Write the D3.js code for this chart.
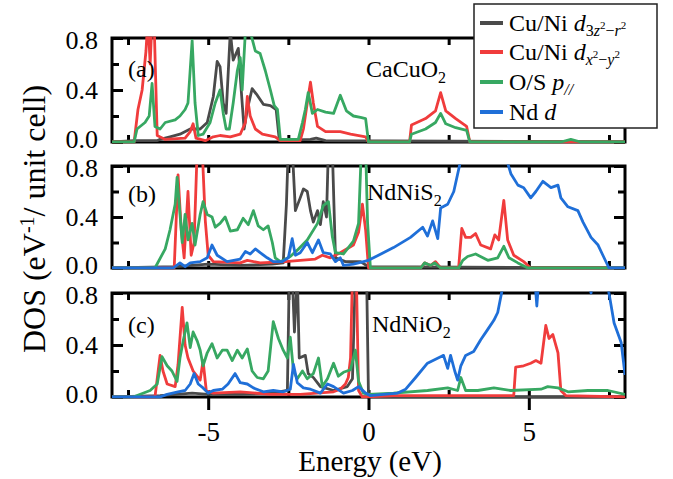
<!DOCTYPE html>
<head>
  <meta charset="utf-8">
  <title>DOS panels</title>
  <script src="https://d3js.org/d3.v7.min.js"></script>
</head>

<body style="margin:0;background:#fff">
  <script>
    // energy axis ticks
    var energyLabels = [-5, 0, 5];
    var energyTicks = [-7.5, -5, -2.5, 0, 2.5, 5, 7.5];
    var dosLabels = [0, 0.4, 0.8];
    var dosMinor = [0.2, 0.6];

    var panelTags = ['(a)', '(b)', '(c)'];
    var compounds = [['CaCuO', '2'], ['NdNiS', '2'], ['NdNiO', '2']];

    // [energy (eV), DOS], values above 0.8 are cut by the frame
    var aGray = [[-8,0],[-7.3,0.01],[-6.6,0.01],[-6.5,0.02],[-6.19,0.04],[-5.88,0.06],[-5.56,0.1],[-5.25,0.1],[-5.03,0.15],[-4.84,0.35],[-4.72,0.62],[-4.63,0.58],[-4.53,0.3],[-4.44,0.22],[-4.31,0.85],[-4.22,0.63],[-4.13,0.68],[-4.06,0.72],[-3.97,0.4],[-3.88,0.1],[-3.78,0.25],[-3.63,0.41],[-3.47,0.36],[-3.28,0.29],[-3.06,0.28],[-2.88,0.25],[-2.78,0.01],[-1.81,0.02],[-1.63,0.03],[-1.34,0.01],[8,0]];
    var aRed = [[-8,0],[-7.31,0],[-7.19,0.25],[-7.06,0.4],[-6.94,0.7],[-6.88,0.95],[-6.81,0.6],[-6.75,0.95],[-6.69,0.95],[-6.59,0.05],[-6.34,0.02],[-5.72,0.03],[-5.56,0.08],[-5.47,0.14],[-5.38,0.03],[-5.09,0.01],[-4.84,0.04],[-4.63,0.05],[-4.31,0.04],[-4,0.06],[-3.84,0.15],[-3.78,0.35],[-3.69,0.2],[-3.53,0.1],[-3.31,0.06],[-2.91,0.04],[-2.75,0.01],[-2.13,0.01],[-2.03,0.1],[-1.91,0.3],[-1.81,0.46],[-1.72,0.3],[-1.59,0.12],[-1.34,0.08],[-0.88,0.08],[-0.56,0.06],[-0.09,0.04],[0,0],[1.28,0],[1.34,0.13],[1.78,0.18],[2.09,0.24],[2.25,0.38],[2.41,0.24],[2.72,0.18],[3.06,0.12],[3.16,0],[8,0]];
    var aGreen = [[-8,0],[-7.31,0],[-7.22,0.1],[-6.97,0.15],[-6.84,0.2],[-6.75,0.45],[-6.66,0.12],[-6.5,0.1],[-6.34,0.15],[-6.03,0.17],[-5.88,0.2],[-5.72,0.25],[-5.63,0.3],[-5.5,0.78],[-5.41,0.3],[-5.31,0.05],[-5.16,0.06],[-4.94,0.15],[-4.78,0.3],[-4.63,0.4],[-4.53,0.22],[-4.44,0.1],[-4.34,0.1],[-4.22,0.3],[-4.09,0.55],[-4,0.65],[-3.94,0.4],[-3.84,0.85],[-3.69,0.85],[-3.53,0.7],[-3.38,0.68],[-3.22,0.55],[-3.06,0.4],[-2.94,0.28],[-2.84,0.25],[-2.75,0.02],[-2.19,0.02],[-2.06,0.15],[-1.97,0.25],[-1.88,0.38],[-1.75,0.22],[-1.59,0.25],[-1.34,0.23],[-1.09,0.22],[-0.88,0.36],[-0.69,0.24],[-0.47,0.2],[-0.25,0.19],[-0.09,0.18],[0,0],[1.28,0],[1.34,0.06],[1.78,0.1],[2.09,0.15],[2.25,0.22],[2.41,0.14],[2.72,0.11],[3.06,0.09],[3.16,0],[6,0],[6.31,0.02],[6.62,0],[8,0]];

    var bGray = [[-8,0],[-6,0.01],[-5,0.03],[-4,0.02],[-3,0.03],[-2.66,0.04],[-2.56,0.5],[-2.5,0.95],[-2.38,0.95],[-2.28,0.45],[-2.13,0.55],[-2.03,0.62],[-1.91,0.6],[-1.81,0.45],[-1.72,0.36],[-1.59,0.45],[-1.5,0.34],[-1.41,0.52],[-1.31,0.4],[-1.25,0.95],[-1.13,0.95],[-1.03,0.08],[-0.72,0.05],[-0.25,0.05],[0,0.01],[8,0]];
    var bRed = [[-8,0],[-6.06,0],[-5.94,0.73],[-5.84,0.3],[-5.75,0.08],[-5.63,0.6],[-5.53,0.1],[-5.44,0.2],[-5.34,0.95],[-5.19,0.95],[-5.09,0.37],[-5,0.1],[-4.84,0.05],[-4,0.04],[-3.78,0.06],[-3.38,0.04],[-2.59,0.05],[-2.13,0.06],[-1.66,0.07],[-1.44,0.1],[-1.19,0.08],[-0.88,0.12],[-0.47,0.18],[-0.31,0.28],[-0.19,0.5],[-0.09,0.3],[0,0],[1.63,0],[1.75,0.04],[1.94,0.02],[2.09,0.05],[2.25,0],[2.81,0],[2.91,0.31],[3.03,0.24],[3.19,0.24],[3.34,0.27],[3.5,0.18],[3.81,0.15],[3.94,0.26],[4.06,0.22],[4.22,0.53],[4.34,0.22],[4.53,0.1],[4.84,0.05],[5.06,0],[8,0]];
    var bGreen = [[-8,0],[-6.66,0],[-6.34,0.15],[-6.19,0.3],[-6.03,0.5],[-5.97,0.71],[-5.81,0.2],[-5.72,0.42],[-5.63,0.22],[-5.5,0.35],[-5.41,0.18],[-5.25,0.42],[-5.16,0.52],[-5.03,0.42],[-4.88,0.4],[-4.78,0.32],[-4.63,0.35],[-4.47,0.4],[-4.31,0.29],[-4.09,0.3],[-3.91,0.39],[-3.75,0.34],[-3.59,0.45],[-3.44,0.33],[-3.28,0.3],[-3.13,0.33],[-3,0.2],[-2.91,0.08],[-2.75,0.05],[-2.44,0.09],[-2.22,0.14],[-1.91,0.22],[-1.59,0.35],[-1.41,0.49],[-1.25,0.52],[-1.13,0.25],[-1.03,0.12],[-0.78,0.11],[-0.47,0.21],[-0.31,0.35],[-0.22,0.95],[-0.09,0.95],[-0.03,0.36],[0.06,0],[1.63,0],[1.75,0.04],[1.94,0.02],[2.06,0.04],[2.25,0],[2.81,0],[2.94,0.06],[3.09,0.09],[3.34,0.11],[3.72,0.06],[4.03,0.08],[4.22,0.17],[4.38,0.08],[4.66,0.04],[4.97,0],[8,0]];
    var bBlue = [[-8,0],[-6.09,0],[-5.88,0.04],[-5.72,0.01],[-5.56,0.04],[-5.25,0.05],[-5.03,0.08],[-4.88,0.18],[-4.72,0.1],[-4.41,0.05],[-4,0.07],[-3.84,0.13],[-3.69,0.11],[-3.53,0.15],[-3.38,0.12],[-3.16,0.08],[-2.97,0.05],[-2.69,0.05],[-2.5,0.08],[-2.38,0.23],[-2.28,0.1],[-2.13,0.12],[-1.91,0.2],[-1.75,0.12],[-1.56,0.22],[-1.41,0.12],[-1.19,0.11],[-1.03,0.05],[-0.88,0.08],[-0.78,0.02],[-0.47,0.03],[0,0.06],[0.78,0.16],[1.31,0.24],[1.69,0.32],[1.84,0.25],[2,0.37],[2.16,0.23],[2.25,0.47],[2.47,0.5],[2.66,0.6],[2.88,0.85],[3.19,1],[4.13,1],[4.44,0.74],[4.66,0.65],[4.84,0.63],[5.06,0.55],[5.22,0.6],[5.44,0.68],[5.69,0.63],[5.91,0.65],[6,0.55],[6.22,0.48],[6.53,0.45],[6.69,0.36],[6.94,0.24],[7.16,0.18],[7.31,0.1],[7.5,0],[8,0]];

    var cGray = [[-8,0],[-6.5,0.01],[-5.5,0.03],[-5,0.02],[-4,0.02],[-3,0.03],[-2.53,0.05],[-2.47,0.95],[-2.38,0.95],[-2.31,0.5],[-2.22,0.95],[-2.16,0.3],[-1.97,0.32],[-1.88,0.18],[-1.72,0.15],[-1.5,0.08],[-1.09,0.05],[-0.66,0.08],[-0.5,0.14],[-0.41,0.95],[-0.06,0.95],[0,0],[8,0]];
    var cRed = [[-8,0],[-6.66,0],[-6.56,0.2],[-6.5,0.32],[-6.41,0.2],[-6.28,0.1],[-6.03,0.08],[-5.94,0.25],[-5.81,0.69],[-5.72,0.4],[-5.63,0.3],[-5.47,0.2],[-5.25,0.13],[-5.16,0.28],[-5.06,0.05],[-4.84,0.03],[-4,0.04],[-3.06,0.02],[-2.13,0.02],[-1.09,0.04],[-0.88,0.06],[-0.72,0.1],[-0.63,0.15],[-0.56,0.3],[-0.5,0.95],[-0.38,0.95],[-0.31,0.05],[-0.19,0],[0.78,0.01],[2.56,0.01],[4.53,0.01],[4.59,0.23],[4.84,0.24],[5.06,0.26],[5.22,0.28],[5.38,0.26],[5.53,0.55],[5.63,0.45],[5.75,0.48],[5.91,0.34],[6,0.05],[6.16,0.01],[8,0]];
    var cGreen = [[-8,0],[-7.34,0],[-6.81,0.05],[-6.59,0.1],[-6.44,0.31],[-6.28,0.24],[-6.13,0.2],[-5.97,0.12],[-5.88,0.3],[-5.78,0.43],[-5.66,0.57],[-5.56,0.38],[-5.47,0.5],[-5.34,0.43],[-5.25,0.36],[-5.16,0.24],[-5.03,0.34],[-4.88,0.41],[-4.72,0.3],[-4.56,0.36],[-4.41,0.36],[-4.25,0.28],[-4.09,0.36],[-3.94,0.3],[-3.78,0.37],[-3.63,0.2],[-3.47,0.15],[-3.28,0.14],[-3.13,0.2],[-2.97,0.58],[-2.81,0.45],[-2.66,0.36],[-2.53,0.3],[-2.44,0.46],[-2.34,0.2],[-2.22,0.14],[-2.06,0.2],[-1.91,0.14],[-1.72,0.18],[-1.56,0.3],[-1.44,0.08],[-1.28,0.14],[-1.09,0.26],[-0.94,0.16],[-0.78,0.19],[-0.56,0.21],[-0.41,0.36],[-0.31,0.12],[-0.16,0.03],[0,0.02],[0.78,0.03],[1.84,0.05],[2.47,0.07],[2.78,0.05],[2.88,0.15],[3.03,0.05],[3.41,0.05],[3.91,0.07],[4.44,0.05],[5.38,0.06],[5.59,0.08],[5.91,0.07],[6.22,0.04],[6.84,0.05],[7.47,0.05],[8,0.02]];
    var cBlue = [[-8,0],[-6.5,0],[-6.28,0.02],[-5.94,0.04],[-5.72,0.05],[-5.56,0.1],[-5.44,0.18],[-5.31,0.1],[-5.16,0.07],[-5,0.03],[-4.84,0.05],[-4.56,0.06],[-4.38,0.1],[-4.16,0.18],[-4,0.11],[-3.78,0.1],[-3.59,0.07],[-3.28,0.04],[-2.97,0.05],[-2.66,0.04],[-2.44,0.06],[-2.34,0.25],[-2.22,0.11],[-2.03,0.07],[-1.81,0.06],[-1.5,0.03],[-1.28,0.1],[-1.09,0.08],[-0.78,0.03],[-0.5,0.05],[-0.31,0.08],[-0.09,0.03],[0.06,0.01],[0.91,0.03],[1.16,0.06],[1.47,0.15],[1.84,0.26],[2.25,0.31],[2.34,0.32],[2.47,0.22],[2.56,0.32],[2.69,0.2],[2.78,0.13],[2.88,0.24],[3.03,0.32],[3.28,0.35],[3.5,0.44],[3.72,0.52],[3.91,0.59],[4.03,0.65],[4.19,0.85],[4.44,1],[5.16,1],[5.25,0.7],[5.34,1],[6.78,1],[6.94,0.8],[7.09,1],[7.41,1],[7.5,0.8],[7.66,0.57],[7.88,0.42],[8,0.17]];

    var panelSeries = [[aGray, aRed, aGreen], [bGray, bRed, bGreen, bBlue], [cGray, cRed, cGreen, cBlue]];
    var colors = ['#4a4a4a', '#f03c3c', '#37a862', '#1f6fd8'];

    var serif = 'Liberation Serif';
    var width = 673;
    var height = 479;
    var left = 112, right = 625;
    var tops = [38, 166, 293];
    var bottoms = [142, 268, 397];

    var svg = d3.select('body').append('svg')
      .attr('width', width).attr('height', height)
      .style('font-family', serif);

    var xscale = d3.scaleLinear().domain([-8, 8]).range([left, right]);

    var line = d3.line();

    panelSeries.forEach(function(series, i) {
      var yscale = d3.scaleLinear().domain([0, 0.8]).range([bottoms[i], tops[i]]);
      var g = svg.append('g');

      function fixAxis(sel) {
        sel.select('.domain').remove();
        sel.selectAll('line').attr('stroke', '#000').attr('stroke-width', 3);
        sel.attr('font-size', null).attr('font-family', null);
      }

      // y ticks, left and right, inward
      g.append('g').attr('transform', 'translate(' + left + ',0)')
        .call(d3.axisLeft(yscale).tickValues(dosLabels).tickSize(-11).tickPadding(14).tickFormat(d3.format('.1f')))
        .call(fixAxis)
        .selectAll('text')
        .style('font-size', '26px')
        .attr('dy', function(d) { return d == 0 ? '0.22em' : (d == 0.8 ? '0.42em' : '0.32em'); });
      g.append('g').attr('transform', 'translate(' + left + ',0)')
        .call(d3.axisLeft(yscale).tickValues(dosMinor).tickSize(-7).tickFormat(''))
        .call(fixAxis);
      g.append('g').attr('transform', 'translate(' + right + ',0)')
        .call(d3.axisRight(yscale).tickValues(dosLabels).tickSize(-11).tickFormat(''))
        .call(fixAxis);
      g.append('g').attr('transform', 'translate(' + right + ',0)')
        .call(d3.axisRight(yscale).tickValues(dosMinor).tickSize(-7).tickFormat(''))
        .call(fixAxis);

      // x ticks, top and bottom, inward
      g.append('g').attr('transform', 'translate(0,' + tops[i] + ')')
        .call(d3.axisTop(xscale).tickValues(energyTicks).tickSize(-7).tickFormat(''))
        .call(fixAxis);
      g.append('g').attr('transform', 'translate(0,' + bottoms[i] + ')')
        .call(d3.axisBottom(xscale).tickValues(energyTicks).tickSize(-7).tickFormat(''))
        .call(fixAxis);

      if (i == 2) {
        g.append('g').attr('transform', 'translate(0,' + bottoms[i] + ')')
          .call(d3.axisBottom(xscale).tickValues(energyLabels).tickSize(13).tickPadding(12).tickFormat(function(d) { return d < 0 ? '-' + Math.abs(d) : d; }))
          .call(fixAxis)
          .selectAll('text').style('font-size', '27px');
      }

      g.append('rect')
        .attr('x', left).attr('y', tops[i])
        .attr('width', right - left).attr('height', bottoms[i] - tops[i])
        .attr('fill', 'none').attr('stroke', '#000').attr('stroke-width', 3);

      svg.append('clipPath').attr('id', 'clip' + i)
        .append('rect')
        .attr('x', left).attr('y', tops[i] - 1.5)
        .attr('width', right - left).attr('height', bottoms[i] - tops[i] + 3);

      line.x(function(d) { return xscale(d[0]); })
        .y(function(d) { return yscale(d[1]); });

      g.append('g').attr('clip-path', 'url(#clip' + i + ')')
        .selectAll('path')
        .data(series)
        .enter()
        .append('path')
        .attr('d', line)
        .attr('fill', 'none')
        .attr('stroke', function(d, k) { return colors[k]; })
        .attr('stroke-width', 2.8)
        .attr('stroke-linejoin', 'round');

      g.append('text').attr('x', 128).attr('y', [77, 202, 333][i])
        .style('font-size', '24px').text(panelTags[i]);

      var ct = g.append('text').attr('x', [366, 367, 372][i]).attr('y', [77, 200, 332][i])
        .style('font-size', '24px');
      ct.append('tspan').text(compounds[i][0]);
      ct.append('tspan').attr('dy', 6).style('font-size', '16px').text(compounds[i][1]);
    });

    svg.append('text')
      .attr('x', 370).attr('y', 471)
      .attr('text-anchor', 'middle')
      .style('font-size', '29px')
      .text('Energy (eV)');

    var ylab = svg.append('text')
      .attr('transform', 'translate(45,219) rotate(-90)')
      .attr('text-anchor', 'middle')
      .style('font-size', '32px');
    ylab.append('tspan').text('DOS (eV');
    ylab.append('tspan').attr('dy', -11).style('font-size', '20px').text('-1');
    ylab.append('tspan').attr('dy', 11).text('/ unit cell)');

    // legend
    var legend = svg.append('g');
    legend.append('rect')
      .attr('x', 474).attr('y', 4).attr('width', 183).attr('height', 124)
      .attr('fill', '#fff').attr('stroke', '#222').attr('stroke-width', 1.5);

    var legendY = [23, 52, 82, 112];
    legendY.forEach(function(ly, k) {
      legend.append('line')
        .attr('x1', 480).attr('x2', 503).attr('y1', ly).attr('y2', ly)
        .attr('stroke', colors[k]).attr('stroke-width', 4);
    });

    function legendText(k) {
      return legend.append('text').attr('x', 509).attr('y', legendY[k] + 8).style('font-size', '24px');
    }
    var t0 = legendText(0);
    t0.append('tspan').text('Cu/Ni ');
    t0.append('tspan').style('font-style', 'italic').text('d');
    t0.append('tspan').attr('dy', 5).style('font-size', '16px').text('3');
    t0.append('tspan').style('font-size', '16px').style('font-style', 'italic').text('z');
    t0.append('tspan').attr('dy', -7).style('font-size', '11px').text('2');
    t0.append('tspan').attr('dy', 7).style('font-size', '16px').text('\u2212');
    t0.append('tspan').style('font-size', '16px').style('font-style', 'italic').text('r');
    t0.append('tspan').attr('dy', -7).style('font-size', '11px').text('2');

    var t1 = legendText(1);
    t1.append('tspan').text('Cu/Ni ');
    t1.append('tspan').style('font-style', 'italic').text('d');
    t1.append('tspan').attr('dy', 5).style('font-size', '16px').style('font-style', 'italic').text('x');
    t1.append('tspan').attr('dy', -7).style('font-size', '11px').text('2');
    t1.append('tspan').attr('dy', 7).style('font-size', '16px').text('\u2212');
    t1.append('tspan').style('font-size', '16px').style('font-style', 'italic').text('y');
    t1.append('tspan').attr('dy', -7).style('font-size', '11px').text('2');

    var t2 = legendText(2);
    t2.append('tspan').text('O/S ');
    t2.append('tspan').style('font-style', 'italic').text('p');
    t2.append('tspan').attr('dy', 5).style('font-size', '16px').style('font-style', 'italic').text('//');

    var t3 = legendText(3);
    t3.append('tspan').text('Nd ');
    t3.append('tspan').style('font-style', 'italic').text('d');

    svg.selectAll('text').style('font-family', serif).attr('fill', '#000');
  </script>
</body>
